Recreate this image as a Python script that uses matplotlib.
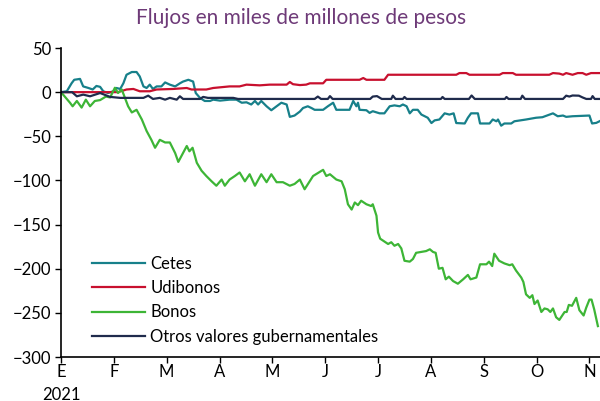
import matplotlib
matplotlib.use("Agg")
import matplotlib.pyplot as plt

plt.rcParams['font.family'] = ['Lato', 'DejaVu Sans']

# ---------- datos (x en meses desde el 1 de enero de 2021) ----------
meses = ["E", "F", "M", "A", "M", "J", "J", "A", "S", "O", "N"]

bonos_x = [0.00, 0.17, 0.22, 0.30, 0.39, 0.47, 0.55, 0.64, 0.74, 0.85, 0.93, 1.02, 1.08, 1.15,
           1.21, 1.27, 1.34, 1.43, 1.53, 1.62, 1.71, 1.78, 1.87, 1.97, 2.06, 2.16, 2.22, 2.30,
           2.38, 2.43, 2.49, 2.57, 2.66, 2.75, 2.85, 2.94, 3.04, 3.10, 3.19, 3.29, 3.38, 3.48,
           3.57, 3.67, 3.79, 3.89, 3.98, 4.08, 4.20, 4.33, 4.42, 4.52, 4.61, 4.77, 4.96, 5.02,
           5.09, 5.21, 5.31, 5.37, 5.43, 5.50, 5.56, 5.62, 5.68, 5.78, 5.87, 5.90, 5.97, 6.00,
           6.04, 6.09, 6.19, 6.25, 6.31, 6.38, 6.44, 6.50, 6.60, 6.66, 6.72, 6.82, 6.91, 6.98,
           7.04, 7.09, 7.15, 7.22, 7.28, 7.34, 7.42, 7.51, 7.61, 7.70, 7.75, 7.86, 7.93, 8.05,
           8.10, 8.16, 8.20, 8.29, 8.39, 8.49, 8.54, 8.61, 8.71, 8.75, 8.80, 8.87, 8.92, 8.96,
           9.02, 9.09, 9.15, 9.21, 9.26, 9.31, 9.37, 9.43, 9.53, 9.57, 9.61, 9.67, 9.75, 9.81,
           9.89, 9.94, 10.00, 10.04, 10.09, 10.16]
bonos = [0, -12, -16, -10, -17.5, -8.5, -16, -10, -9, -5, -6, 5, -1, 3,
         -6.5, -16, -23, -20, -31, -44, -54, -63, -54, -57, -57, -69, -79, -70,
         -61, -67, -63, -80, -89, -95, -101, -106, -99, -106, -99, -95, -91, -101,
         -93, -106, -93, -102, -93, -102, -102, -106, -104, -99, -110, -95, -88, -95,
         -93, -99, -101, -110, -127, -133, -125, -128, -123, -127, -129, -127, -140, -159,
         -166, -168, -172, -170, -174, -172, -177, -191, -192, -189, -182, -181, -180, -178,
         -181, -182, -200, -199, -212, -209, -214, -217, -212, -207, -212, -210, -195, -195,
         -192, -197, -183, -191, -194, -196, -195, -202, -210, -215, -229, -233, -230, -240,
         -236, -249, -245, -246, -249, -245, -255, -258, -249, -249, -241, -242, -233, -247,
         -253, -244, -235, -235, -246, -265]

cetes_x = [0.00, 0.11, 0.20, 0.25, 0.36, 0.42, 0.52, 0.60, 0.67, 0.74, 0.80, 0.89, 0.99, 1.05,
           1.12, 1.18, 1.24, 1.34, 1.43, 1.49, 1.56, 1.62, 1.68, 1.74, 1.81, 1.90, 1.97, 2.06,
           2.16, 2.25, 2.31, 2.41, 2.50, 2.55, 2.63, 2.72, 2.82, 2.88, 3.01, 3.19, 3.32, 3.42,
           3.51, 3.60, 3.67, 3.73, 3.79, 3.89, 3.98, 4.08, 4.17, 4.27, 4.33, 4.42, 4.52, 4.58,
           4.67, 4.74, 4.80, 4.96, 5.05, 5.15, 5.21, 5.46, 5.53, 5.59, 5.62, 5.65, 5.78, 5.84,
           5.90, 6.03, 6.12, 6.22, 6.31, 6.41, 6.47, 6.54, 6.60, 6.66, 6.75, 6.82, 6.94, 7.01,
           7.07, 7.16, 7.26, 7.35, 7.43, 7.48, 7.64, 7.70, 7.76, 7.89, 7.93, 8.11, 8.17, 8.24,
           8.27, 8.33, 8.39, 8.52, 8.58, 8.80, 8.99, 9.11, 9.31, 9.40, 9.50, 9.56, 9.68, 10.00,
           10.05, 10.13, 10.19]
cetes = [0, 1, 10, 14, 15, 6.5, 4.7, 3, 7, 6, 1, -1, 1, 4.7,
         3.6, 10, 19.7, 22.8, 22.8, 17.8, 6.5, 4.7, 8.5, 3.6, 6.5, 6.5, 11, 8.5,
         6.5, 10, 12, 14, 12, -1, -6.5, -10, -10, -8.5, -9.6, -8.5, -8.5, -12,
         -11.5, -14, -10, -14, -10, -16, -20.5, -16, -12, -14, -28, -26.5, -22, -18,
         -16, -18, -20, -20, -16, -12, -20, -20, -10, -16, -12, -20, -20.5, -23.5,
         -21.6, -24, -24, -16, -15, -16, -14, -16, -24, -20, -20, -25.4, -29, -35,
         -32, -31, -24, -25.4, -24, -35, -35.5, -29, -24, -24, -35.5, -35.5, -31, -33,
         -31, -38, -35.5, -35.5, -33, -31, -29, -28.4, -24, -27.3, -26.5, -28, -27.3, -26.5,
         -35.5, -34.8, -33]

udibonos_x = [0.00, 1.08, 1.24, 1.37, 1.49, 1.68, 1.81, 2.12, 2.38, 2.47, 2.75, 2.88, 3.19, 3.38,
              3.51, 3.76, 3.95, 4.27, 4.33, 4.39, 4.52, 4.64, 4.71, 4.96, 5.02, 5.65, 5.72, 5.78,
              6.12, 6.19, 7.48, 7.54, 7.67, 7.73, 8.30, 8.36, 8.55, 8.61, 9.24, 9.31, 9.43, 9.50,
              9.56, 9.68, 9.78, 9.87, 9.94, 10.03, 10.19]
udibonos = [0, 0, 3, 3.6, 1, 1, 3, 3.6, 4.7, 3, 3, 4.7, 6.5, 6.5,
            8.5, 7.7, 8.5, 8.5, 11.5, 9, 8, 8.5, 10, 10, 14, 14, 16, 14,
            14, 19.7, 19.7, 21.6, 21.6, 19.7, 19.7, 21.6, 21.6, 19.7, 19.7, 21.6, 21, 19.7,
            21.6, 19.7, 21.6, 21.6, 19.7, 21.6, 21.6]

otros_x = [0.00, 0.21, 0.30, 0.42, 0.55, 0.74, 0.93, 1.12, 1.56, 1.65, 1.74, 1.87, 1.97, 2.06,
           2.19, 2.25, 2.31, 2.63, 2.69, 2.78, 3.26, 3.35, 4.80, 4.86, 4.92, 5.05, 5.09, 5.14,
           5.85, 5.90, 5.98, 6.07, 6.25, 6.28, 6.33, 6.47, 6.50, 6.54, 7.19, 7.22, 7.26, 7.72,
           7.77, 7.83, 8.40, 8.43, 8.47, 8.70, 8.73, 8.78, 9.50, 9.56, 9.62, 9.68, 9.80, 9.87,
           9.94, 10.03, 10.06, 10.10, 10.19]
otros = [0, 0, -4.7, -2.8, -4.7, -1, -5.4, -6.5, -6.5, -4, -7.7, -6.5, -8.5, -6.5,
         -8.5, -4.7, -7.7, -7.7, -5.4, -6.5, -6.5, -7.7, -7.7, -5, -7.7, -7.7, -4.5, -7.7,
         -7.7, -5, -4.5, -7.7, -7.7, -4, -7.7, -7.7, -5.5, -7.7, -7.7, -5.5, -7.7, -7.7,
         -3.8, -7.7, -7.7, -5.5, -7.7, -7.7, -4, -7.7, -7.7, -4, -5, -3.8, -4, -6,
         -7.7, -7.7, -4.5, -7.7, -7.7]

# ---------- grafica ----------
fig = plt.figure(figsize=(6, 4.01), dpi=100)
ax = fig.add_axes([61 / 600, 44 / 401, 539 / 600, 309 / 401])

ax.plot(cetes_x, cetes, color="#17808A", lw=1.6, label="Cetes")
ax.plot(udibonos_x, udibonos, color="#C8102E", lw=1.6, label="Udibonos")
ax.plot(bonos_x, bonos, color="#3DB536", lw=1.6, label="Bonos")
ax.plot(otros_x, otros, color="#1F2B4C", lw=1.6, label="Otros valores gubernamentales")

ax.set_xlim(0, 10.2)
ax.set_ylim(-300, 50)
ax.set_yticks(range(-300, 51, 50))
ax.set_xticks(range(len(meses)))
ax.set_xticklabels(meses)
ax.tick_params(axis="both", labelsize=12, length=4, width=1, color="black")
ax.tick_params(axis="x", pad=1)
ax.tick_params(axis="y", pad=3)

for s in ["top", "right"]:
    ax.spines[s].set_visible(False)
for s in ["left", "bottom"]:
    ax.spines[s].set_linewidth(1.2)

ax.annotate("2021", xy=(0, 0), xycoords=("data", "axes fraction"),
            xytext=(0, -27), textcoords="offset points",
            ha="center", va="center", fontsize=12)

ax.legend(loc="lower left", bbox_to_anchor=(0.0575, 0.04), frameon=False,
          fontsize=12, handlelength=3.2, handletextpad=0.3, labelspacing=0.49,
          borderpad=0, borderaxespad=0)

fig.text(0.5025, 1 - 18 / 401, "Flujos en miles de millones de pesos",
         ha="center", va="center", fontsize=15, color="#6E3A78")

fig.savefig("out.png", dpi=100)
